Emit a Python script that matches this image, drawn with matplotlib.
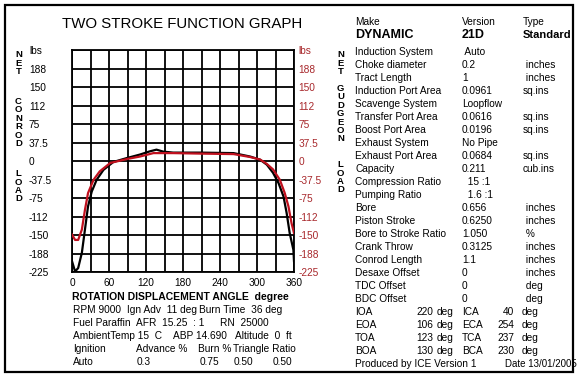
import numpy as np
import matplotlib.pyplot as plt
from matplotlib.patches import Rectangle

plt.rcParams['font.family'] = ['Liberation Sans', 'DejaVu Sans']

# curves (degrees, lbs)
conrod_angle = [0, 5, 10, 16, 21, 26, 32, 40, 51, 67, 89, 110, 126, 137, 148, 164,
                208, 262, 289, 305, 316, 326, 335, 343, 348, 353, 359, 360]
conrod_load = [-203, -224, -217, -186, -139, -92, -62, -38, -18, -2, 6, 13, 19.5, 23, 19, 17,
               17, 16, 9, 2.6, -7.5, -24, -45, -72, -105, -146, -180, -203]
gudgeon_angle = [0, 5, 10, 16, 21, 26, 35, 45, 62, 89, 110, 132, 164,
                 208, 262, 289, 305, 316, 326, 337, 345, 351, 356, 360]
gudgeon_load = [-149, -160, -160, -139, -99, -65, -38, -21, -4, 4, 9, 16, 16,
                15, 14, 8, 3, -6, -17, -38, -65, -92, -126, -146]

y_ticks = [-225, -187.5, -150, -112.5, -75, -37.5, 0, 37.5, 75, 112.5, 150, 187.5, 225]
y_labels = ['-225', '-188', '-150', '-112', '-75', '-37.5', '0', '37.5', '75', '112', '150', '188', 'lbs']
x_ticks = list(range(0, 361, 30))
x_labels = [str(v) if v % 60 == 0 else '' for v in x_ticks]

spec_rows = [
    ('Induction System', ' Auto', ''),
    ('Choke diameter', '0.2', ' inches'),
    ('Tract Length', '1', ' inches'),
    ('Induction Port Area', '0.0961', 'sq.ins'),
    ('Scavenge System', 'Loopflow', ''),
    ('Transfer Port Area', '0.0616', 'sq.ins'),
    ('Boost Port Area', '0.0196', 'sq.ins'),
    ('Exhaust System', 'No Pipe', ''),
    ('Exhaust Port Area', '0.0684', 'sq.ins'),
    ('Capacity', '0.211', 'cub.ins'),
    ('Compression Ratio', '  15 :1', ''),
    ('Pumping Ratio', '  1.6 :1', ''),
    ('Bore', '0.656', ' inches'),
    ('Piston Stroke', '0.6250', ' inches'),
    ('Bore to Stroke Ratio', '1.050', ' %'),
    ('Crank Throw', '0.3125', ' inches'),
    ('Conrod Length', '1.1', ' inches'),
    ('Desaxe Offset', '0', ' inches'),
    ('TDC Offset', '0', ' deg'),
    ('BDC Offset', '0', ' deg'),
]
timing_rows = [
    ('IOA', '220', 'ICA', '40'),
    ('EOA', '106', 'ECA', '254'),
    ('TOA', '123', 'TCA', '237'),
    ('BOA', '130', 'BCA', '230'),
]
run_rows = [
    [(72.7, 'RPM 9000'), (127, 'Ign Adv  11 deg'), (199, 'Burn Time  36 deg')],
    [(72.7, 'Fuel Paraffin'), (136.5, 'AFR  15.25  : 1'), (220, 'RN  25000')],
    [(72.7, 'AmbientTemp 15  C'), (173, 'ABP 14.690'), (235, 'Altitude  0  ft')],
    [(72.7, 'Ignition'), (136.5, 'Advance %'), (198.5, 'Burn %'), (233, 'Triangle Ratio')],
    [(72.7, 'Auto'), (136.5, '0.3'), (200, '0.75'), (233.5, '0.50'), (273, '0.50')],
]

W, H = 578, 375
fig = plt.figure(figsize=(W / 100, H / 100), dpi=100)
RED = '#c0101e'
LRED = '#a8282c'


def put(x, y, s, **kw):
    kw.setdefault('fontsize', 7.3)
    kw.setdefault('va', 'center')
    fig.text(x / W, 1 - y / H, s, **kw)


ax = fig.add_axes([72 / W, 1 - 272 / H, 222 / W, 222 / H])
ax.plot(conrod_angle, conrod_load, color='black', lw=1.6, zorder=3)
ax.plot(gudgeon_angle, gudgeon_load, color=RED, lw=1.6, zorder=4)
ax.set_xlim(0, 360)
ax.set_ylim(-225, 225)
ax.set_xticks(x_ticks, x_labels)
ax.set_yticks(y_ticks, y_labels)
ax.grid(True, color='black', lw=1.3)
ax.tick_params(length=0, labelsize=7.3)
ax.tick_params(axis='x', pad=4)
ax.tick_params(axis='y', pad=31)
for lbl in ax.get_yticklabels():
    lbl.set_ha('left')
for s in ax.spines.values():
    s.set_linewidth(1.3)

ax2 = ax.twinx()
ax2.set_ylim(-225, 225)
ax2.set_yticks(y_ticks, y_labels)
ax2.tick_params(length=0, labelsize=7.3, pad=3, labelcolor=LRED)
for s in ax2.spines.values():
    s.set_visible(False)

put(182.5, 24, 'TWO STROKE FUNCTION GRAPH', fontsize=10.8, ha='center')

# vertical axis captions, one stacked text per word
def column(x, yc, word):
    put(x, yc, '\n'.join(word), fontsize=6.8, fontweight='bold', ha='center',
        multialignment='center', linespacing=0.92)

column(18.5, 63.2, 'NET')
column(18.5, 122.5, 'CONROD')
column(18.5, 186.3, 'LOAD')
column(340.5, 63.2, 'NET')
column(340.5, 113.6, 'GUDGEON')
column(340.5, 177.3, 'LOAD')

# bottom block
put(72, 297, 'ROTATION DISPLACEMENT ANGLE  degree', fontweight='bold', fontsize=7.5)
for r, row in enumerate(run_rows):
    for x, s in row:
        put(x, 310 + r * 13.1, s)

# right block
put(355, 22, 'Make')
put(462, 22, 'Version')
put(523, 22, 'Type')
put(355, 34.5, 'DYNAMIC', fontweight='bold', fontsize=9)
put(462, 34.5, '21D', fontweight='bold', fontsize=9)
put(523, 34.5, 'Standard', fontweight='bold', fontsize=8)
step = 13.0
for i, (name, val, unit) in enumerate(spec_rows):
    y = 51.6 + i * step
    put(355, y, name)
    put(462, y, val)
    put(523, y, unit)
for j, (n1, v1, n2, v2) in enumerate(timing_rows):
    y = 51.6 + (len(spec_rows) + j) * step
    put(355, y, n1)
    put(433.5, y, v1, ha='right')
    put(437, y, 'deg')
    put(462, y, n2)
    put(514, y, v2, ha='right')
    put(522, y, 'deg')
y = 51.6 + (len(spec_rows) + len(timing_rows)) * step
put(355, y, 'Produced by ICE Version 1')
put(505, y, 'Date 13/01/2005', fontsize=7)

fig.patches.append(Rectangle((5 / W, 1 - 372 / H), 568 / W, 367 / H, transform=fig.transFigure,
                             fill=False, edgecolor='black', lw=1.6))

fig.savefig('out.png', dpi=100)
